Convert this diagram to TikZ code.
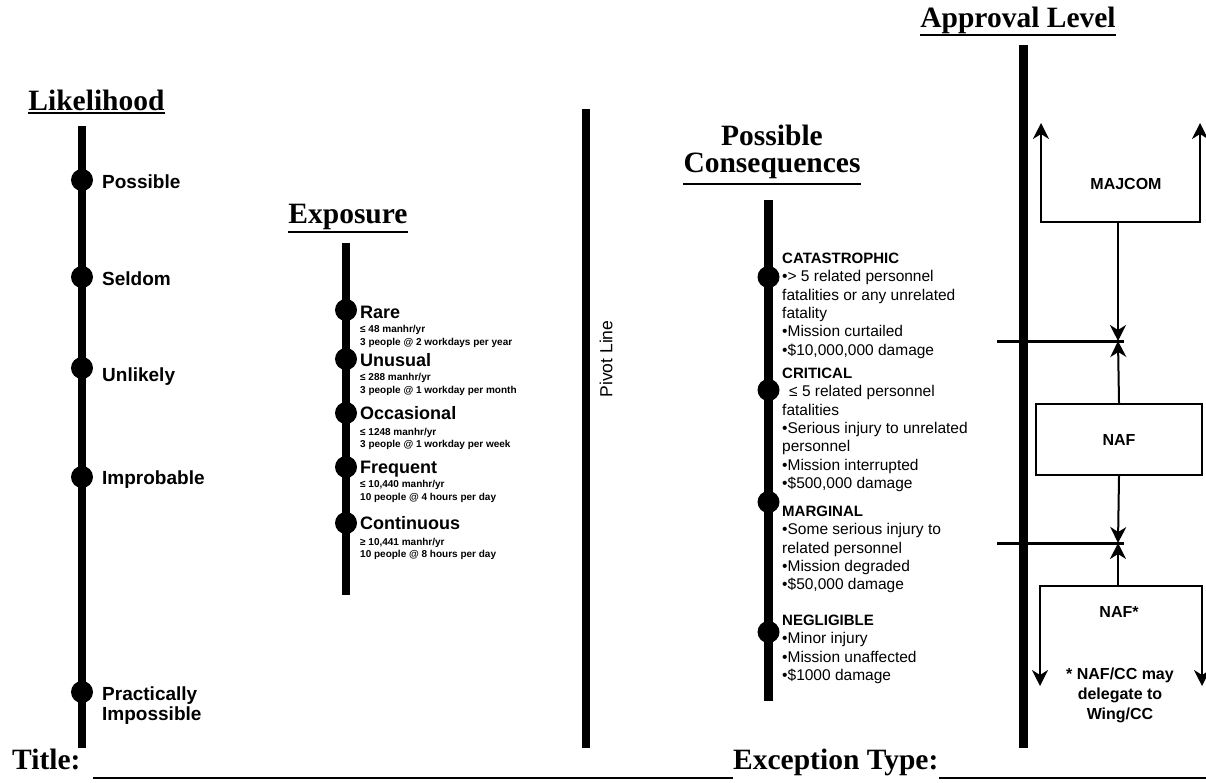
\documentclass[tikz,border=0pt]{standalone}
\usepackage{fontspec}
\setmainfont{Liberation Serif}
\setsansfont{Liberation Sans}
\usetikzlibrary{arrows.meta}
\begin{document}
\begin{tikzpicture}[x=1pt,y=-1pt,
 every node/.style={inner sep=0pt},
 bar/.style={line width=8pt},
 dotn/.style={circle,fill=black,minimum size=22pt},
 ttl/.style={font=\fontsize{29.5}{32}\selectfont\bfseries, anchor=base},
 ul/.style={line width=2pt},
 llab/.style={font=\fontsize{19}{20}\selectfont\sffamily\bfseries, anchor=base west},
 elab/.style={font=\fontsize{18}{20}\selectfont\sffamily\bfseries, anchor=base west},
 esm/.style={font=\fontsize{10}{12.5}\selectfont\sffamily\bfseries, anchor=base west},
 chd/.style={font=\fontsize{15}{18}\selectfont\sffamily\bfseries, anchor=base west},
 ctx/.style={font=\fontsize{15.5}{18}\selectfont\sffamily, anchor=base west},
 alab/.style={font=\fontsize{16}{20}\selectfont\sffamily\bfseries, align=center},
 thinln/.style={line width=2pt},
 arr/.style={-{Stealth[length=16pt,width=16pt,inset=5pt]}},
 arrs/.style={{Stealth[length=16pt,width=16pt,inset=5pt]}-{Stealth[length=16pt,width=16pt,inset=5pt]}},
 btxt/.style={font=\fontsize{29.5}{32}\selectfont\bfseries, anchor=base west},
]
\useasboundingbox (0,0) rectangle (1206,782);
\fill[white] (0,0) rectangle (1206,782);

% ---------- Likelihood ----------
\node[ttl] (lik) at (96.5,110) {Likelihood};
\draw[ul] ([yshift=-3pt]lik.base west) -- ([yshift=-3pt]lik.base east);
\coordinate (lt) at (82,126);
\coordinate (lb) at (82,748);
\draw[bar] (lt) -- (lb);
\node[dotn] (l1) at (82,180) {};
\node[dotn] (l2) at (82,277) {};
\node[dotn] (l3) at (82,368) {};
\node[dotn] (l4) at (82,477) {};
\node[dotn] (l5) at (82,692) {};
\node[llab] (lt1) at (102,188) {Possible};
\node[llab] (lt2) at (102,285) {Seldom};
\node[llab] (lt3) at (102,381) {Unlikely};
\node[llab] (lt4) at (102,484) {Improbable};
\node[llab] (lt5) at (102,700) {Practically};
\node[llab] (lt6) at (102,720) {Impossible};

% ---------- Exposure ----------
\node[ttl] (exp) at (348,223) {Exposure};
\draw[ul] ([yshift=-9pt]exp.base west) -- ([yshift=-9pt]exp.base east);
\coordinate (et) at (346,243);
\coordinate (eb) at (346,595);
\draw[bar] (et) -- (eb);
\node[dotn] (e1) at (346,310) {};
\node[dotn] (e2) at (346,359) {};
\node[dotn] (e3) at (346,413) {};
\node[dotn] (e4) at (346,467) {};
\node[dotn] (e5) at (346,523) {};
\node[elab] (et1) at (360,318.5) {Rare};
\node[esm] (es1a) at (360,332.5) {≤ 48 manhr/yr};
\node[esm] (es1b) at (360,345) {3 people @ 2 workdays per year};
\node[elab] (et2) at (360,366.5) {Unusual};
\node[esm] (es2a) at (360,380) {≤ 288 manhr/yr};
\node[esm] (es2b) at (360,393.5) {3 people @ 1 workday per month};
\node[elab] (et3) at (360,419.5) {Occasional};
\node[esm] (es3a) at (360,435.5) {≤ 1248 manhr/yr};
\node[esm] (es3b) at (360,447) {3 people @ 1 workday per week};
\node[elab] (et4) at (360,473.5) {Frequent};
\node[esm] (es4a) at (360,487) {≤ 10,440 manhr/yr};
\node[esm] (es4b) at (360,500.5) {10 people @ 4 hours per day};
\node[elab] (et5) at (360,529.5) {Continuous};
\node[esm] (es5a) at (360,545.5) {≥ 10,441 manhr/yr};
\node[esm] (es5b) at (360,557) {10 people @ 8 hours per day};

% ---------- Pivot line ----------
\coordinate (pt) at (586,109);
\coordinate (pb) at (586,748);
\draw[bar] (pt) -- (pb);
\node[font=\fontsize{17.5}{20}\selectfont\sffamily, rotate=90] (piv) at (606,359) {Pivot Line};

% ---------- Possible Consequences ----------
\node[ttl] (pc1) at (772,145) {Possible};
\node[ttl] (pc2) at (772,172) {Consequences};
\draw[ul] ([yshift=-12pt]pc2.base west) -- ([yshift=-12pt]pc2.base east);
\coordinate (ct) at (768.5,200);
\coordinate (cb) at (768.5,701);
\draw[line width=9pt] (ct) -- (cb);
\node[dotn] (c1) at (768.5,277) {};
\node[dotn] (c2) at (768.5,390) {};
\node[dotn] (c3) at (768.5,502) {};
\node[dotn] (c4) at (768.5,632) {};

\node[chd] (ca0) at (782,263.5) {CATASTROPHIC};
\node[ctx] (ca1) at (782,281.8) {•> 5 related personnel};
\node[ctx] (ca2) at (782,300.1) {fatalities or any unrelated};
\node[ctx] (ca3) at (782,318.4) {fatality};
\node[ctx] (ca4) at (782,336.7) {•Mission curtailed};
\node[ctx] (ca5) at (782,355) {•\$10,000,000 damage};

\node[chd] (cr0) at (782,378.5) {CRITICAL};
\node[ctx] (cr1) at (789,396.8) {≤ 5 related personnel};
\node[ctx] (cr2) at (782,415.1) {fatalities};
\node[ctx] (cr3) at (782,433.4) {•Serious injury to unrelated};
\node[ctx] (cr4) at (782,451.7) {personnel};
\node[ctx] (cr5) at (782,470) {•Mission interrupted};
\node[ctx] (cr6) at (782,488.3) {•\$500,000 damage};

\node[chd] (ma0) at (782,516.5) {MARGINAL};
\node[ctx] (ma1) at (782,534.8) {•Some serious injury to};
\node[ctx] (ma2) at (782,553.1) {related personnel};
\node[ctx] (ma3) at (782,571.4) {•Mission degraded};
\node[ctx] (ma4) at (782,589.7) {•\$50,000 damage};

\node[chd] (ne0) at (782,625.5) {NEGLIGIBLE};
\node[ctx] (ne1) at (782,643.8) {•Minor injury};
\node[ctx] (ne2) at (782,662.1) {•Mission unaffected};
\node[ctx] (ne3) at (782,680.4) {•\$1000 damage};

% ---------- Approval Level ----------
\node[ttl] (app) at (1018,27) {Approval Level};
\draw[ul] ([yshift=-8pt]app.base west) -- ([yshift=-8pt]app.base east);
\coordinate (at) at (1023.5,45);
\coordinate (ab) at (1023.5,748);
\draw[line width=9.5pt] (at) -- (ab);

\coordinate (m1) at (1041,123);
\coordinate (m2) at (1041,222);
\coordinate (m3) at (1200,222);
\coordinate (m4) at (1200,123);
\draw[thinln,arrs] (m1) -- (m2) -- (m3) -- (m4);
\node[alab] (maj) at (1126,184) {MAJCOM};

\coordinate (mc) at (1118,222);
\coordinate (x1) at (1118,341);
\coordinate (h1a) at (997,341);
\coordinate (h1b) at (1124,341);
\draw[line width=3pt] (h1a) -- (h1b);
\draw[thinln,arr] (mc) -- (x1);

\node[draw,thinln,minimum width=166pt,minimum height=71pt,alab] (naf) at (1119,439.5) {NAF};
\draw[thinln,arr] (naf.north) -- (x1);

\coordinate (x2) at (1118,543);
\coordinate (h2a) at (997,543);
\coordinate (h2b) at (1124,543);
\draw[line width=3pt] (h2a) -- (h2b);
\draw[thinln,arr] (naf.south) -- (x2);

\coordinate (n1) at (1118,586);
\draw[thinln,arr] (n1) -- (x2);
\coordinate (s1) at (1040,686);
\coordinate (s2) at (1040,586);
\coordinate (s3) at (1202,586);
\coordinate (s4) at (1202,686);
\draw[thinln,arrs] (s1) -- (s2) -- (s3) -- (s4);
\node[alab] (nafs) at (1119,612) {NAF*};
\node[alab] (note) at (1120,695) {* NAF/CC may\\delegate to\\Wing/CC};

% ---------- Bottom line ----------
\node[btxt] (ttlb) at (12,769) {Title:};
\node[btxt] (exc) at (733,769) {Exception Type:};
\coordinate (u1) at (93,778);
\coordinate (u2) at (733,778);
\coordinate (u3) at (exc.base east);
\coordinate (u4) at (1206,778);
\draw[ul] (u1) -- (u2);
\draw[ul] (u3 |- u4) -- (u4);
\end{tikzpicture}
\end{document}
